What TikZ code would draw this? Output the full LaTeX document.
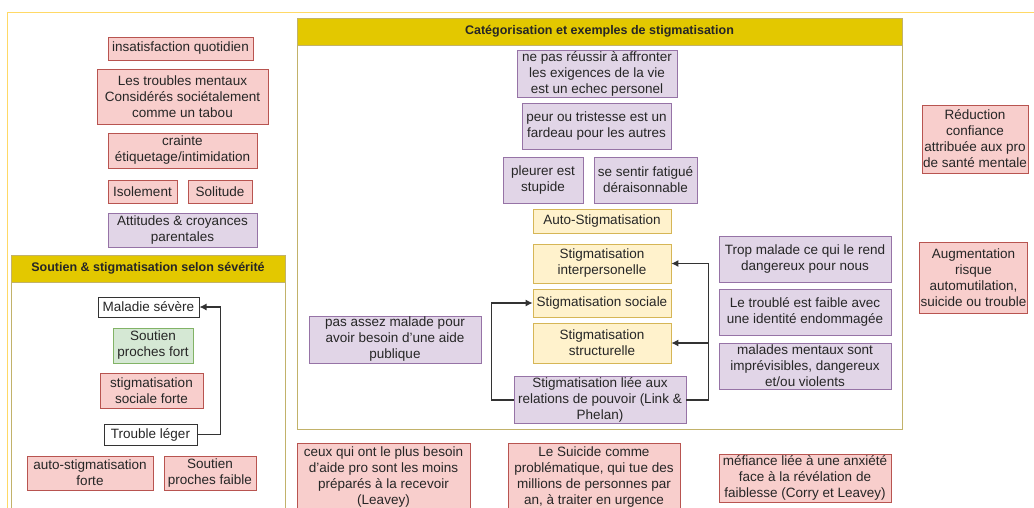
\documentclass[tikz,border=0pt]{standalone}
\usepackage{fontspec}
\setmainfont{Liberation Sans}
\usetikzlibrary{arrows.meta}

% couleurs des boites
\definecolor{rosefond}{HTML}{F8CECC}
\definecolor{rosetrait}{HTML}{B85450}
\definecolor{violetfond}{HTML}{E1D5E7}
\definecolor{violettrait}{HTML}{9673A6}
\definecolor{jaunefond}{HTML}{FFF2CC}
\definecolor{jaunetrait}{HTML}{D6B656}
\definecolor{vertfond}{HTML}{D5E8D4}
\definecolor{verttrait}{HTML}{82B366}
\definecolor{bandeau}{HTML}{E3C800}
\definecolor{bandeautrait}{HTML}{C2B26A}
\definecolor{cadre}{HTML}{FFD966}

\tikzset{
  boite/.style={draw, line width=0.8pt, align=center, inner sep=1pt,
    text=black!85, font=\fontsize{13.5}{16}\selectfont},
  rose/.style={boite, fill=rosefond, draw=rosetrait},
  violet/.style={boite, fill=violetfond, draw=violettrait},
  jaune/.style={boite, fill=jaunefond, draw=jaunetrait},
  vert/.style={boite, fill=vertfond, draw=verttrait},
  blanc/.style={boite, fill=white, draw=black!80, line width=1pt},
  taille/.style 2 args={minimum width=#1pt, minimum height=#2pt},
  titre/.style={font=\fontsize{12.5}{15}\selectfont\bfseries, text=black!85},
  fleche/.style={-{Latex[length=7pt,width=7pt]}, line width=1.1pt, draw=black!80},
}

\begin{document}
\begin{tikzpicture}[x=1pt, y=-1pt]
\useasboundingbox (0,0) rectangle (1034,507);
\clip (0,0) rectangle (1034,507);
\fill[white] (0,0) rectangle (1034,507);

% cadre general
\draw[cadre, line width=1pt] (7,12) rectangle (1050,530);

% conteneur gauche
\draw[bandeautrait, line width=0.8pt, fill=white] (11,255) rectangle (285,520);
\draw[bandeautrait, line width=0.8pt, fill=bandeau] (11,255) rectangle (285,282);
\node[titre] (titresev) at (148,268.5) {Soutien \& stigmatisation selon sévérité};

% conteneur central
\draw[bandeautrait, line width=0.8pt, fill=white] (297,18) rectangle (902,429);
\draw[bandeautrait, line width=0.8pt, fill=bandeau] (297,18) rectangle (902,45);
\node[titre] (titrecat) at (599.5,31.5) {Catégorisation et exemples de stigmatisation};

% colonne de gauche
\node[rose, taille={145}{23}] (insat) at (180.5,48.5) {insatisfaction quotidien};
\node[rose, taille={171}{55}] (tabou) at (182.5,96.5) {Les troubles mentaux\\Considérés sociétalement\\comme un tabou};
\node[rose, taille={149}{35}] (crainte) at (182.5,150.5) {crainte\\étiquetage/intimidation};
\node[rose, taille={69}{23}] (isol) at (142.5,191.5) {Isolement};
\node[rose, taille={64}{23}] (solit) at (220,191.5) {Solitude};
\node[violet, taille={149}{34}] (parent) at (182.5,230) {Attitudes \& croyances\\parentales};

% severite
\node[blanc, taille={101}{20}] (severe) at (148.5,307) {Maladie sévère};
\node[vert, taille={80}{35}] (fort) at (153,345.5) {Soutien\\proches fort};
\node[rose, taille={103}{35}] (socforte) at (151.5,390.5) {stigmatisation\\sociale forte};
\node[blanc, taille={93}{21}] (leger) at (150.5,434.5) {Trouble léger};
\node[rose, taille={126}{34}] (autoforte) at (90,473) {auto-stigmatisation\\forte};
\node[rose, taille={92}{34}] (faible) at (210,473) {Soutien\\proches faible};
\draw[fleche] (leger.east) -- ++(23,0) |- (severe.east);

% exemples et categories
\node[violet, taille={160}{47}] (echec) at (597,73.5) {ne pas réussir à affronter\\les exigences de la vie\\est un echec personel};
\node[violet, taille={149}{46}] (fardeau) at (596.5,126) {peur ou tristesse est un\\fardeau pour les autres};
\node[violet, taille={80}{46}] (pleurer) at (543,180) {pleurer est\\stupide};
\node[violet, taille={103}{46}] (fatigue) at (645.5,180) {se sentir fatigué\\déraisonnable};
\node[jaune, taille={138}{24}] (auto) at (602,221) {Auto-Stigmatisation};
\node[jaune, taille={138}{39}] (interp) at (602,263.5) {Stigmatisation\\interpersonelle};
\node[jaune, taille={138}{28}] (sociale) at (602,303) {Stigmatisation sociale};
\node[jaune, taille={138}{40}] (struct) at (602,343) {Stigmatisation\\structurelle};
\node[violet, taille={172}{46}] (pouvoir) at (600,400) {Stigmatisation liée aux\\relations de pouvoir (Link \&\\Phelan)};
\node[violet, taille={172}{47}] (publique) at (395,339.5) {pas assez malade pour\\avoir besoin d'une aide\\publique};
\node[violet, taille={172}{46}] (dangereux) at (805,259) {Trop malade ce qui le rend\\dangereux pour nous};
\node[violet, taille={172}{46}] (identite) at (805,312) {Le troublé est faible avec\\une identité endommagée};
\node[violet, taille={172}{46}] (violents) at (805,366) {malades mentaux sont\\imprévisibles, dangereux\\et/ou violents};

\draw[fleche] (pouvoir.west) -- ++(-22,0) |- (sociale.west);
\draw[fleche] (pouvoir.east) -- ++(22,0) coordinate (coude) |- (interp.east);
\draw[fleche] (coude |- struct.east) -- (struct.east);

% en dessous et a droite
\node[rose, taille={173}{69}] (leavey) at (383.5,477.5) {ceux qui ont le plus besoin\\d'aide pro sont les moins\\préparés à la recevoir\\(Leavey)};
\node[rose, taille={172}{69}] (suicide) at (594,477.5) {Le Suicide comme\\problématique, qui tue des\\millions de personnes par\\an, à traiter en urgence};
\node[rose, taille={172}{48}] (mefiance) at (805,478) {méfiance liée à une anxiété\\face à la révélation de\\faiblesse (Corry et Leavey)};
\node[rose, taille={106}{68}] (reduction) at (975,139) {Réduction\\confiance\\attribuée aux pro\\de santé mentale};
\node[rose, taille={103}{71}] (augment) at (973.5,277.5) {Augmentation\\risque\\automutilation,\\suicide ou trouble};
\end{tikzpicture}
\end{document}
